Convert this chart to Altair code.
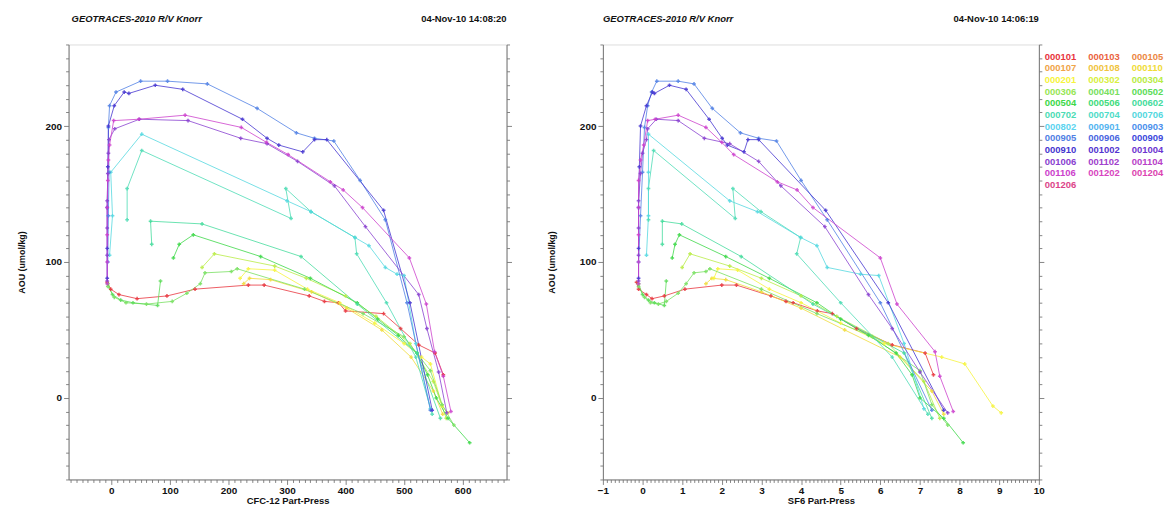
import altair as alt
import pandas as pd

# ---------------- data ----------------
stations = ["000101", "000103", "000105", "000107", "000108", "000110",
            "000201", "000302", "000304", "000306", "000401", "000502",
            "000504", "000506", "000602", "000702", "000704", "000706",
            "000802", "000901", "000903", "000905", "000906", "000909",
            "000910", "001002", "001004", "001006", "001102", "001104",
            "001106", "001202", "001204", "001206"]
palette = ["#e8343c", "#ea6240", "#ec8844", "#f0a448", "#f0c440", "#f0dc38",
           "#f6f43c", "#d8f040", "#b8ec44", "#96e654", "#78e060", "#5cdc58",
           "#3cd848", "#40dc7c", "#44dc9c", "#4cdcb4", "#50dcc8", "#54d8e0",
           "#5cd4f0", "#54b4f0", "#4c90ec", "#5080e4", "#4864e0", "#3c48dc",
           "#4434d0", "#5434d0", "#6c34d0", "#8840d0", "#a040cc", "#b840c8",
           "#cc40cc", "#d844c0", "#dc44b0", "#dc4488"]

aou_000101 = [85, 80, 76, 73, 75, 80, 83, 83, 75, 71, 70, 64, 62, 51, 39, 33, 17]
cfc_000101 = [-7, -1, 13, 44, 95, 143, 234, 261, 338, 364, 388, 400, 465, 494, 525, 553, 567]
sf6_000101 = [-0.15, -0.1, 0.1, 0.24, 0.55, 1.07, 2.0, 2.37, 3.24, 3.62, 3.8, 4.41, 4.79, 5.4, 6.3, 7.13, 7.34]

aou_000110 = [84, 88, 87, 78, 66, 50, 30, 5, -12]
cfc_000110 = [226, 236, 272, 342, 402, 462, 512, 550, 566]
sf6_000110 = [1.6, 1.75, 2.1, 3.0, 4.0, 5.1, 6.5, 7.3, 7.6]

aou_000201 = [88, 95, 94, 80, 70, 55, 40, 30, 25, -6, -11]
cfc_000201 = [220, 234, 279, 335, 390, 450, 500, 530, 545, 565, 575]
sf6_000201 = [1.8, 1.9, 2.4, 3.2, 4.0, 5.0, 6.1, 7.55, 8.13, 8.84, 9.05]

aou_000304 = [96, 106, 97, 88, 75, 60, 40, 12, -15]
cfc_000304 = [155, 176, 279, 333, 400, 452, 510, 550, 572]
sf6_000304 = [1.0, 1.2, 2.2, 3.0, 4.0, 4.9, 6.2, 7.1, 7.5]

aou_000401 = [82, 74, 70, 69, 71, 77, 84, 92, 93, 95, 80, 62, 45, 20, -5, -20]
cfc_000401 = [-6, 5, 25, 60, 104, 129, 152, 160, 205, 215, 330, 430, 500, 545, 565, 585]
sf6_000401 = [-0.1, 0.05, 0.2, 0.4, 0.6, 0.9, 1.1, 1.3, 1.6, 1.7, 3.0, 4.4, 5.8, 7.0, 7.3, 7.7]

aou_000502 = [84, 76, 72, 70, 68, 86]
cfc_000502 = [-6, 2, 16, 37, 79, 84]
sf6_000502 = [-0.1, 0.0, 0.15, 0.3, 0.55, 0.6]

aou_000504 = [103, 113, 120, 104, 88, 70, 58, 46, 33, 17, 0, -15, -33]
cfc_000504 = [106, 116, 140, 255, 340, 420, 455, 490, 522, 540, 555, 575, 612]
sf6_000504 = [0.75, 0.82, 0.93, 2.1, 3.2, 4.4, 5.0, 5.7, 6.4, 6.8, 7.0, 7.6, 8.09]

aou_000602 = [113, 130, 128, 104, 69, 33, -15]
cfc_000602 = [69, 67, 155, 324, 420, 522, 562]
sf6_000602 = [0.5, 0.5, 0.99, 2.49, 4.3, 6.6, 7.3]

aou_000702 = [131, 154, 182, 132, 154, 137, 118, 106, 70, 30, -12]
cfc_000702 = [27, 27, 52, 307, 298, 341, 416, 419, 470, 520, 548]
sf6_000702 = [0.15, 0.15, 0.28, 2.34, 2.28, 2.99, 3.99, 3.89, 5.0, 6.3, 7.2]

aou_000706 = [105, 134, 166, 194, 145, 137, 118, 112, 96, 91, 90, 40, -8]
cfc_000706 = [-3, 2, -1, 52, 300, 341, 416, 440, 468, 488, 500, 520, 545]
sf6_000706 = [0.1, 0.15, 0.15, 0.15, 2.2, 2.9, 3.99, 4.4, 4.66, 5.5, 5.96, 6.6, 7.1]

aou_000905 = [100, 134, 166, 199, 215, 225, 233, 233, 231, 213, 195, 191, 189, 160, 131, 70, -9]
cfc_000905 = [-6, -5, -4, -5, -3, 8, 50, 96, 164, 249, 316, 347, 380, 425, 468, 505, 545]
sf6_000905 = [-0.1, -0.05, 0.0, 0.05, 0.13, 0.23, 0.36, 0.9, 1.3, 1.76, 2.47, 2.93, 3.38, 4.0, 4.66, 6.0, 7.3]

aou_000910 = [88, 110, 140, 170, 200, 215, 225, 224, 230, 227, 205, 191, 186, 181, 190, 190, 138, 70, -9]
cfc_000910 = [-7, -7, -7, -6, -5, 5, 22, 30, 75, 122, 224, 266, 286, 327, 347, 368, 465, 510, 548]
sf6_000910 = [-0.1, -0.1, -0.1, -0.08, -0.05, 0.1, 0.25, 0.3, 0.68, 1.1, 1.68, 2.01, 2.14, 2.56, 2.66, 2.93, 4.62, 6.2, 7.6]

aou_001006 = [86, 105, 125, 145, 165, 180, 190, 198, 205, 204, 191, 187, 174, 156, 126, 76, 51, 19, -11]
cfc_001006 = [-7, -7, -7, -7, -6, -5, -4, 6, 48, 131, 221, 266, 318, 381, 434, 525, 539, 559, 573]
sf6_001006 = [-0.1, -0.1, -0.1, -0.1, -0.05, 0.0, 0.1, 0.13, 0.35, 0.9, 1.56, 2.2, 2.93, 3.49, 4.6, 5.7, 6.3, 7.0, 7.7]

aou_001106 = [84, 100, 120, 140, 160, 175, 186, 204, 205, 208, 199, 188, 179, 159, 153, 140, 103, 69, 34, 16, -10]
cfc_001106 = [-7, -7, -7, -7, -6, -5, -3, 4, 47, 126, 222, 265, 302, 374, 396, 429, 509, 538, 552, 567, 580]
sf6_001106 = [-0.1, -0.1, -0.1, -0.1, -0.1, -0.05, 0.03, 0.13, 0.32, 0.9, 1.6, 2.0, 2.3, 3.4, 3.9, 4.3, 6.0, 6.42, 7.38, 7.5, 7.84]

profiles = {
    "000101": (aou_000101, cfc_000101, sf6_000101),
    "000110": (aou_000110, cfc_000110, sf6_000110),
    "000201": (aou_000201, cfc_000201, sf6_000201),
    "000304": (aou_000304, cfc_000304, sf6_000304),
    "000401": (aou_000401, cfc_000401, sf6_000401),
    "000502": (aou_000502, cfc_000502, sf6_000502),
    "000504": (aou_000504, cfc_000504, sf6_000504),
    "000602": (aou_000602, cfc_000602, sf6_000602),
    "000702": (aou_000702, cfc_000702, sf6_000702),
    "000706": (aou_000706, cfc_000706, sf6_000706),
    "000905": (aou_000905, cfc_000905, sf6_000905),
    "000910": (aou_000910, cfc_000910, sf6_000910),
    "001006": (aou_001006, cfc_001006, sf6_001006),
    "001106": (aou_001106, cfc_001106, sf6_001106),
}

rows = []
for st, (a, c, s) in profiles.items():
    for i, (av, cv, sv) in enumerate(zip(a, c, s)):
        rows.append({"station": st, "i": i, "aou": av, "cfc": cv, "sf6": sv})
df = pd.DataFrame(rows)
legend_df = pd.DataFrame({"station": stations})

FONT = "Liberation Sans"
H = 438
color = alt.Color("station:N", scale=alt.Scale(domain=stations, range=palette), legend=None)
yscale = alt.Scale(domain=[-60, 260], nice=False, zero=False)
y_vals = list(range(-60, 261, 10))
y_major = "datum.value % 100 === 0"
AX = dict(grid=False, domainColor="#777", tickColor="#666", tickWidth=0.8,
          labelFont=FONT, labelFontWeight="bold", labelFontSize=10, labelColor="#111",
          titleFont=FONT, titleFontWeight="bold", titleColor="#111", labelOverlap=False,
          labelFlush=False)


def panel(xfield, xdomain, xvals, xmajor, xtitle, width, header_x, date,
          ytitle_pad, legend=False):
    xscale = alt.Scale(domain=xdomain, nice=False, zero=False)
    xaxis = alt.Axis(values=xvals,
                     labelExpr=f"{xmajor} ? format(datum.value, 'd') : ''",
                     tickSize={"condition": {"test": xmajor, "value": 5}, "value": 3},
                     title=xtitle, titleFontSize=9.5, labelPadding=1, titlePadding=0, **AX)
    yaxis = alt.Axis(values=y_vals, labelExpr=f"{y_major} ? datum.label : ''",
                     tickSize={"condition": {"test": y_major, "value": 5}, "value": 3},
                     title="AOU (umol/kg)", titleFontSize=9, labelPadding=2,
                     minExtent=30, maxExtent=30, titlePadding=ytitle_pad, orient="left", **AX)
    yaxis_r = alt.Axis(values=y_vals, labels=False, title=None, orient="right",
                       tickSize={"condition": {"test": y_major, "value": 5}, "value": 3},
                       grid=False, domainColor="#777", tickColor="#666", tickWidth=0.8)
    base = alt.Chart(df)
    lines = base.mark_line(strokeWidth=1, opacity=0.8).encode(
        x=alt.X(f"{xfield}:Q", scale=xscale, axis=xaxis),
        y=alt.Y("aou:Q", scale=yscale, axis=yaxis),
        color=color, detail="station:N", order=alt.Order("i:Q"))
    pts = base.mark_point(shape="cross", size=14, filled=True, opacity=0.85).encode(
        x=alt.X(f"{xfield}:Q", scale=xscale, axis=xaxis),
        y=alt.Y("aou:Q", scale=yscale, axis=yaxis_r),
        color=color)
    hdr = alt.Chart(pd.DataFrame({"t": ["GEOTRACES-2010  R/V Knorr"]})).mark_text(
        align="left", baseline="middle", font=FONT, fontSize=9.5, fontWeight="bold",
        fontStyle="italic", color="#111").encode(
        x=alt.value(header_x), y=alt.value(-25.5), text="t:N")
    dt = alt.Chart(pd.DataFrame({"t": [date]})).mark_text(
        align="right", baseline="middle", font=FONT, fontSize=9.5, fontWeight="bold",
        color="#111").encode(x=alt.value(width), y=alt.value(-25.5), text="t:N")
    layers = [lines, pts, hdr, dt]
    if legend:
        leg = alt.Chart(legend_df).transform_window(
            k="row_number()").transform_calculate(
            px=f"{width} + 6 + ((datum.k - 1) % 3) * 43.8",
            py="12.3 + floor((datum.k - 1) / 3) * 11.73").mark_text(
            align="left", baseline="middle", font=FONT, fontSize=9.5,
            fontWeight="bold").encode(
            x=alt.X("px:Q", scale=None, axis=None),
            y=alt.Y("py:Q", scale=None, axis=None),
            text="station:N", color=color)
        layers.append(leg)
    return alt.layer(*layers).resolve_axis(y="independent").properties(width=width, height=H)


left = panel("cfc", [-73, 675], list(range(-70, 671, 10)), "datum.value % 100 === 0",
             "CFC-12 Part-Press", 441, 3, "04-Nov-10 14:08:20", 12)
sf_vals = [round(-1 + 0.1 * k, 1) for k in range(111)]
right = panel("sf6", [-1, 10], sf_vals, "abs(datum.value - round(datum.value)) < 0.001",
              "SF6 Part-Press", 439, 0, "04-Nov-10 14:06:19", 17, legend=True)

chart = alt.hconcat(left, right, spacing=34).properties(
    padding={"left": 9, "top": 4, "right": 0, "bottom": 0}
).configure_view(stroke="#999", strokeWidth=1).configure(background="white")

chart.save("out.html", embed_options={"renderer": "svg", "actions": False})
